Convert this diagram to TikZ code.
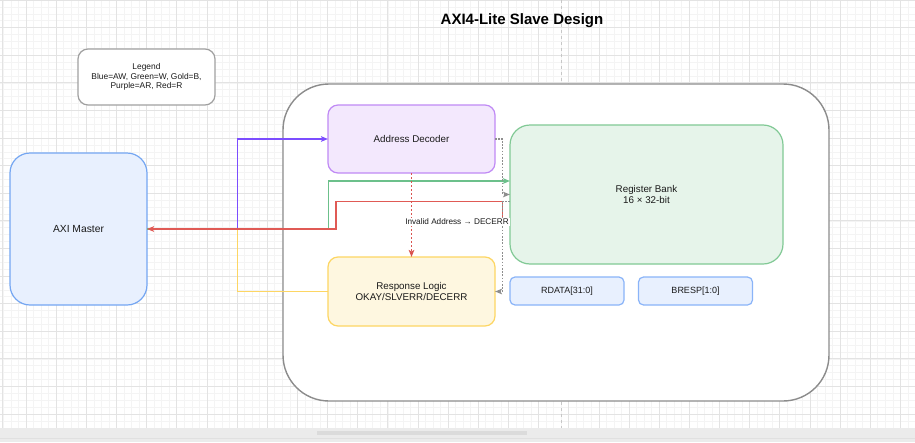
\documentclass[tikz,border=0pt]{standalone}
\usepackage{fontspec}
\setmainfont{Liberation Sans}
\usetikzlibrary{arrows.meta}
\definecolor{gridminor}{HTML}{F4F4F4}
\definecolor{gridmajor}{HTML}{E3E3E3}
\definecolor{txt}{HTML}{1A1A1A}
\definecolor{mfill}{HTML}{E8F0FE}\definecolor{mdraw}{HTML}{74A6F2}
\definecolor{dfill}{HTML}{F3E8FD}\definecolor{ddraw}{HTML}{C08AF5}
\definecolor{bfill}{HTML}{E6F4EA}\definecolor{bdraw}{HTML}{81C995}
\definecolor{rfill}{HTML}{FEF7E0}\definecolor{rdraw}{HTML}{FDD663}
\definecolor{sdraw}{HTML}{8AB4F8}
\definecolor{lgdraw}{HTML}{A0A0A0}
\definecolor{cdraw}{HTML}{8C8C8C}
\definecolor{cpurple}{HTML}{7C4DFF}
\definecolor{cgreen}{HTML}{6CC08B}
\definecolor{cred}{HTML}{E05A55}
\definecolor{cgold}{HTML}{FDD663}
\definecolor{cgrey}{HTML}{8E8E8E}
\definecolor{cdot}{HTML}{D9534F}
\tikzset{
  box/.style={draw, line width=1.2pt, inner sep=0pt, outer sep=0pt, align=center,
    text=txt, font=\fontsize{9.8}{10.7}\selectfont},
  wire/.style={line width=1.5pt},
  tip/.style={-{Stealth[length=7pt,width=5.5pt,inset=1.5pt]}},
  gdot/.style={line width=1.2pt, cgrey, dash pattern=on 1.6pt off 1.6pt},
  lbl/.style={fill=white, inner sep=1pt, text=txt, font=\fontsize{8.2}{9.5}\selectfont}
}
\begin{document}
\begin{tikzpicture}[x=1pt,y=-1pt]
\useasboundingbox (0,0) rectangle (915,442);
\fill[white] (0,0) rectangle (915,442);
% grid
\foreach \i in {0,...,121} {\draw[gridminor, line width=0.6pt] ({3.39+7.5375*\i},0) -- ({3.39+7.5375*\i},427.5);}
\foreach \j in {0,...,61} {\draw[gridminor, line width=0.6pt] (0,{6.9*\j}) -- (915,{6.9*\j});}
\foreach \i in {0,...,29} {\draw[gridmajor, line width=0.7pt] ({26+30.15*\i},0) -- ({26+30.15*\i},427.5);}
\foreach \j in {0,...,15} {\draw[gridmajor, line width=0.7pt] (0,{27.6*\j}) -- (915,{27.6*\j});}
\draw[gridmajor, line width=1pt] (2,0) -- (2,427.5);
% page break
\draw[black!22, line width=0.8pt, dash pattern=on 3pt off 3pt] (561,0) -- (561,84);
\draw[black!22, line width=0.8pt, dash pattern=on 3pt off 3pt] (561,402) -- (561,427.5);
% bottom bar
\fill[black!8] (0,427.5) rectangle (915,442);
\fill[black!14] (317,431) rectangle (527,435);
\draw[black!12, line width=0.6pt] (0,438.3) -- (915,438.3);

% title
\node[font=\bfseries\fontsize{15}{16}\selectfont, text=black] (title) at (522,21) {AXI4-Lite Slave Design};

% legend
\node[box, fill=white, draw=lgdraw, rounded corners=10pt, minimum width=137pt, minimum height=56pt,
  font=\fontsize{8.4}{9.3}\selectfont] (legend) at (146.5,77) {Legend\\Blue=AW, Green=W, Gold=B,\\Purple=AR, Red=R};

% container
\node[box, fill=white, draw=cdraw, line width=1.4pt, rounded corners=46pt, minimum width=546pt, minimum height=317pt] (slave) at (556,242.5) {};

% blocks
\node[box, fill=mfill, draw=mdraw, rounded corners=20pt, minimum width=137pt, minimum height=152pt, font=\fontsize{10.3}{11}\selectfont] (master) at (78.5,229) {AXI Master};
\node[box, fill=dfill, draw=ddraw, rounded corners=10pt, minimum width=167pt, minimum height=68pt] (dec) at (411.5,139) {Address Decoder};
\node[box, fill=bfill, draw=bdraw, rounded corners=20pt, minimum width=273pt, minimum height=139pt] (bank) at (646.5,194.5) {Register Bank\\16 × 32-bit};
\node[box, fill=rfill, draw=rdraw, rounded corners=10pt, minimum width=167pt, minimum height=69pt] (resp) at (411.5,291.5) {Response Logic\\OKAY/SLVERR/DECERR};
\node[box, fill=mfill, draw=sdraw, rounded corners=5pt, minimum width=114pt, minimum height=28pt, font=\fontsize{9}{10}\selectfont] (rdata) at (567,291) {RDATA[31:0]};
\node[box, fill=mfill, draw=sdraw, rounded corners=5pt, minimum width=114pt, minimum height=28pt, font=\fontsize{9}{10}\selectfont] (bresp) at (695.5,291) {BRESP[1:0]};

% connectors
\draw[wire, cgold] (resp.west) -| (237.3,229) -- (master.east);
\draw[wire, cpurple, tip] (master.east) -| (237.3,139) -- (dec.west);
\draw[wire, cgreen, tip] (master.east) -| (328.7,181) -- (bank.west |- 0,181);
\coordinate (rsrc) at (502.7,218);
\draw[wire, cred, tip] (rsrc) |- (336,201.7) |- (master.east);
\draw[gdot, tip] (dec.east) -| ([xshift=-7.3pt]bank.west) -- (bank.west);
\draw[gdot, tip] ([yshift=-7.2pt]bank.west) -| ([xshift=7.7pt]resp.east) -- (resp.east);
\draw[line width=1.4pt, cdot, dash pattern=on 2pt off 2pt, tip] (dec.south) -- (resp.north);
\node[lbl] (invalid) at (457,222) {Invalid Address → DECERR};
\end{tikzpicture}
\end{document}
